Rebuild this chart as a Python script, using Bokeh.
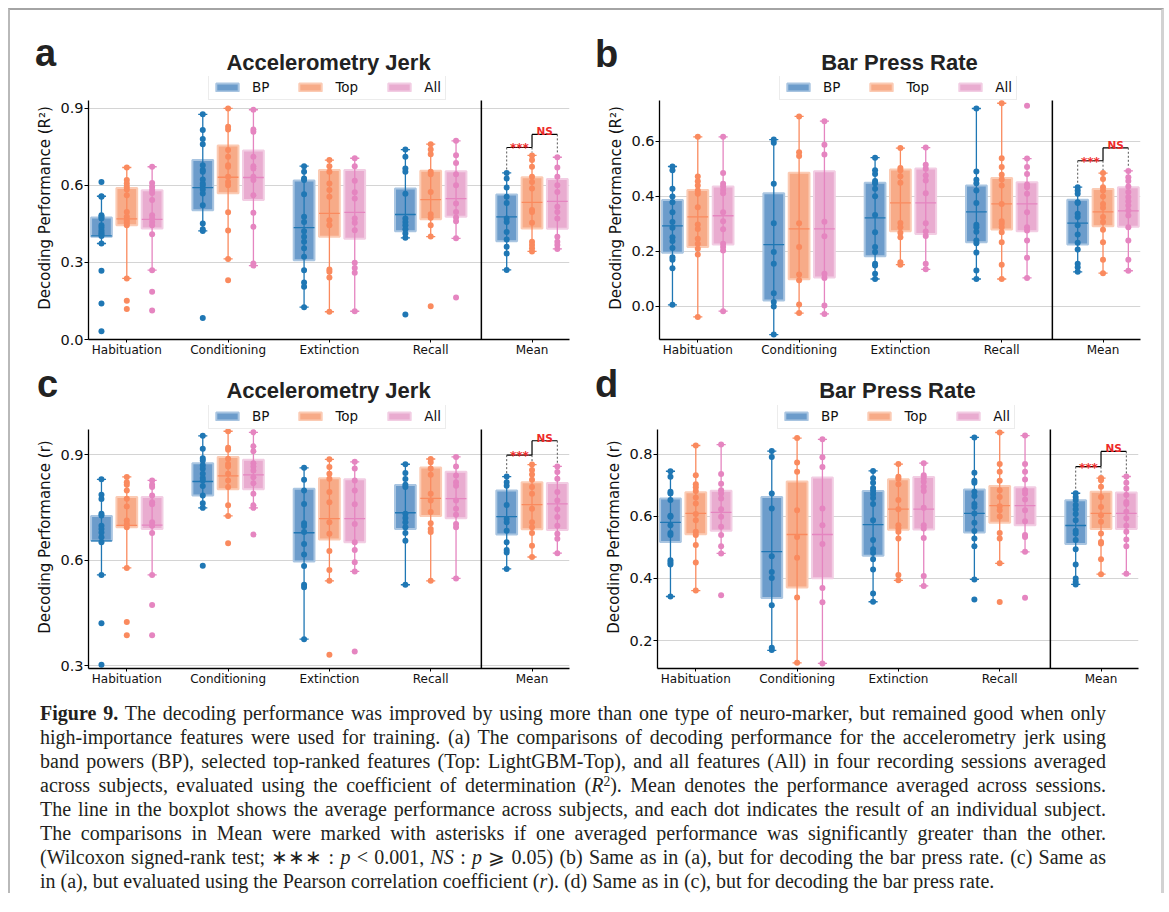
import numpy as np
from bokeh.plotting import figure
from bokeh.models import (ColumnDataSource, Legend, LegendItem, Label,
                          FixedTicker, Div, Range1d, NumeralTickFormatter)
from bokeh.layouts import column, row
from bokeh.embed import file_html
from bokeh.resources import INLINE

# ---------------------------------------------------------------- data
CATEGORIES = ["Habituation", "Conditioning", "Extinction", "Recall", "Mean"]
FEATURES = ["BP", "Top", "All"]

# box statistics per category: [lower whisker, Q1, mean, Q3, upper whisker]
A_BP_BOX = [[0.374, 0.400, 0.404, 0.475, 0.558], [0.423, 0.503, 0.592, 0.699, 0.877],
            [0.126, 0.309, 0.436, 0.619, 0.675], [0.396, 0.422, 0.487, 0.588, 0.740],
            [0.271, 0.383, 0.478, 0.565, 0.649]]
A_TOP_BOX = [[0.238, 0.445, 0.470, 0.590, 0.670], [0.314, 0.570, 0.632, 0.756, 0.900],
             [0.108, 0.400, 0.491, 0.660, 0.699], [0.401, 0.468, 0.545, 0.657, 0.761],
             [0.343, 0.432, 0.534, 0.632, 0.717]]
A_ALL_BOX = [[0.270, 0.432, 0.468, 0.581, 0.673], [0.288, 0.543, 0.631, 0.736, 0.895],
             [0.110, 0.392, 0.495, 0.660, 0.706], [0.394, 0.478, 0.549, 0.655, 0.774],
             [0.353, 0.431, 0.538, 0.625, 0.710]]

B_BP_BOX = [[0.006, 0.195, 0.293, 0.387, 0.509], [-0.102, 0.022, 0.225, 0.412, 0.607],
            [0.100, 0.183, 0.322, 0.450, 0.541], [0.100, 0.234, 0.344, 0.440, 0.720],
            [0.126, 0.225, 0.303, 0.388, 0.434]]
B_TOP_BOX = [[-0.038, 0.216, 0.326, 0.424, 0.617], [-0.024, 0.099, 0.282, 0.486, 0.691],
             [0.152, 0.274, 0.377, 0.498, 0.576], [0.100, 0.280, 0.373, 0.467, 0.739],
             [0.121, 0.292, 0.344, 0.427, 0.485]]
B_ALL_BOX = [[-0.017, 0.225, 0.330, 0.436, 0.617], [-0.027, 0.105, 0.282, 0.492, 0.674],
             [0.135, 0.264, 0.377, 0.502, 0.578], [0.104, 0.274, 0.373, 0.452, 0.538],
             [0.130, 0.290, 0.348, 0.434, 0.493]]

C_BP_BOX = [[0.558, 0.655, 0.655, 0.726, 0.830], [0.749, 0.784, 0.824, 0.876, 0.954],
            [0.375, 0.596, 0.678, 0.803, 0.863], [0.530, 0.689, 0.735, 0.814, 0.873],
            [0.575, 0.673, 0.724, 0.798, 0.838]]
C_TOP_BOX = [[0.578, 0.694, 0.699, 0.780, 0.837], [0.726, 0.802, 0.840, 0.894, 0.967],
             [0.541, 0.659, 0.718, 0.833, 0.887], [0.541, 0.726, 0.776, 0.864, 0.888],
             [0.609, 0.688, 0.758, 0.822, 0.872]]
C_ALL_BOX = [[0.558, 0.689, 0.700, 0.780, 0.827], [0.749, 0.802, 0.843, 0.886, 0.964],
             [0.568, 0.651, 0.718, 0.830, 0.880], [0.548, 0.719, 0.775, 0.852, 0.894],
             [0.620, 0.686, 0.760, 0.820, 0.867]]

D_BP_BOX = [[0.342, 0.518, 0.581, 0.658, 0.746], [0.168, 0.337, 0.487, 0.663, 0.811],
            [0.325, 0.473, 0.574, 0.682, 0.747], [0.397, 0.548, 0.610, 0.687, 0.855],
            [0.381, 0.511, 0.571, 0.652, 0.675]]
D_TOP_BOX = [[0.361, 0.543, 0.610, 0.678, 0.829], [0.128, 0.371, 0.542, 0.713, 0.853],
             [0.394, 0.557, 0.624, 0.720, 0.769], [0.449, 0.580, 0.635, 0.698, 0.871],
             [0.414, 0.560, 0.610, 0.680, 0.724]]
D_ALL_BOX = [[0.481, 0.554, 0.613, 0.683, 0.832], [0.126, 0.401, 0.542, 0.726, 0.849],
             [0.376, 0.558, 0.624, 0.727, 0.772], [0.486, 0.572, 0.635, 0.694, 0.861],
             [0.415, 0.560, 0.610, 0.677, 0.729]]

# individual subjects (one list per category)
A_BP_DOTS = [[0.614, 0.558, 0.556, 0.484, 0.478, 0.471, 0.445, 0.436, 0.426, 0.417, 0.410, 0.403, 0.374, 0.268, 0.140, 0.032],
             [0.877, 0.816, 0.781, 0.761, 0.679, 0.660, 0.653, 0.623, 0.608, 0.600, 0.584, 0.569, 0.523, 0.452, 0.429, 0.423, 0.084],
             [0.675, 0.653, 0.627, 0.621, 0.566, 0.478, 0.458, 0.422, 0.400, 0.381, 0.355, 0.322, 0.270, 0.222, 0.205, 0.126],
             [0.740, 0.712, 0.666, 0.653, 0.568, 0.471, 0.458, 0.445, 0.429, 0.413, 0.396, 0.097],
             [0.649, 0.627, 0.592, 0.556, 0.532, 0.471, 0.458, 0.419, 0.390, 0.361, 0.335, 0.271]]
A_TOP_DOTS = [[0.670, 0.621, 0.608, 0.595, 0.584, 0.562, 0.497, 0.478, 0.465, 0.455, 0.445, 0.238, 0.151, 0.119],
              [0.900, 0.829, 0.818, 0.738, 0.712, 0.679, 0.673, 0.634, 0.614, 0.601, 0.496, 0.425, 0.314, 0.231],
              [0.699, 0.675, 0.653, 0.608, 0.582, 0.556, 0.465, 0.445, 0.273, 0.264, 0.242, 0.108],
              [0.761, 0.740, 0.722, 0.653, 0.644, 0.575, 0.488, 0.474, 0.445, 0.401, 0.130],
              [0.717, 0.699, 0.673, 0.634, 0.614, 0.588, 0.504, 0.497, 0.455, 0.381, 0.368, 0.355, 0.343]]
A_ALL_DOTS = [[0.673, 0.610, 0.595, 0.582, 0.571, 0.543, 0.484, 0.471, 0.458, 0.445, 0.410, 0.270, 0.186, 0.113],
              [0.895, 0.818, 0.809, 0.712, 0.675, 0.666, 0.634, 0.621, 0.562, 0.494, 0.439, 0.296, 0.288],
              [0.706, 0.675, 0.618, 0.574, 0.549, 0.471, 0.455, 0.426, 0.299, 0.279, 0.260, 0.110],
              [0.774, 0.718, 0.688, 0.644, 0.601, 0.530, 0.497, 0.475, 0.461, 0.394, 0.164],
              [0.710, 0.670, 0.634, 0.601, 0.575, 0.517, 0.497, 0.471, 0.400, 0.381, 0.368, 0.353]]

B_BP_DOTS = [[0.509, 0.495, 0.428, 0.400, 0.379, 0.343, 0.307, 0.286, 0.252, 0.238, 0.213, 0.179, 0.170, 0.139, 0.006],
             [0.607, 0.595, 0.446, 0.303, 0.198, 0.155, 0.048, 0.016, 0.000, -0.102],
             [0.541, 0.495, 0.482, 0.456, 0.448, 0.428, 0.401, 0.333, 0.270, 0.216, 0.198, 0.155, 0.149, 0.119, 0.100],
             [0.720, 0.491, 0.461, 0.448, 0.422, 0.376, 0.297, 0.288, 0.272, 0.240, 0.230, 0.196, 0.131, 0.100],
             [0.434, 0.422, 0.410, 0.379, 0.376, 0.337, 0.325, 0.295, 0.262, 0.232, 0.207, 0.155, 0.143, 0.126]]
B_TOP_DOTS = [[0.617, 0.473, 0.455, 0.440, 0.422, 0.410, 0.361, 0.298, 0.282, 0.246, 0.228, 0.210, 0.189, -0.038],
              [0.691, 0.561, 0.547, 0.303, 0.216, 0.116, 0.095, 0.007, -0.024],
              [0.576, 0.504, 0.495, 0.474, 0.450, 0.304, 0.288, 0.268, 0.252, 0.161, 0.152],
              [0.739, 0.539, 0.507, 0.479, 0.462, 0.440, 0.373, 0.310, 0.301, 0.288, 0.270, 0.234, 0.152, 0.100],
              [0.485, 0.464, 0.434, 0.422, 0.400, 0.373, 0.359, 0.325, 0.307, 0.279, 0.234, 0.170, 0.121]]
B_ALL_DOTS = [[0.617, 0.485, 0.446, 0.436, 0.424, 0.412, 0.343, 0.310, 0.281, 0.228, 0.216, 0.204, -0.017],
              [0.674, 0.588, 0.553, 0.308, 0.255, 0.119, 0.104, 0.004, -0.027],
              [0.578, 0.515, 0.501, 0.476, 0.458, 0.412, 0.303, 0.273, 0.256, 0.155, 0.135],
              [0.730, 0.538, 0.507, 0.482, 0.444, 0.434, 0.410, 0.343, 0.288, 0.276, 0.240, 0.177, 0.104],
              [0.493, 0.470, 0.456, 0.436, 0.416, 0.398, 0.383, 0.367, 0.349, 0.331, 0.288, 0.240, 0.170, 0.130]]

C_BP_DOTS = [[0.830, 0.786, 0.774, 0.732, 0.727, 0.698, 0.689, 0.679, 0.665, 0.651, 0.558, 0.420, 0.302],
             [0.954, 0.917, 0.890, 0.884, 0.870, 0.860, 0.846, 0.834, 0.827, 0.811, 0.784, 0.762, 0.749, 0.584],
             [0.863, 0.829, 0.798, 0.760, 0.705, 0.697, 0.680, 0.646, 0.616, 0.583, 0.530, 0.523, 0.375],
             [0.873, 0.848, 0.831, 0.815, 0.808, 0.732, 0.720, 0.708, 0.694, 0.677, 0.655, 0.530],
             [0.838, 0.822, 0.812, 0.757, 0.717, 0.708, 0.684, 0.651, 0.629, 0.622, 0.575]]
C_TOP_DOTS = [[0.837, 0.822, 0.815, 0.798, 0.775, 0.753, 0.713, 0.703, 0.694, 0.578, 0.424, 0.386],
              [0.967, 0.920, 0.914, 0.889, 0.874, 0.867, 0.846, 0.827, 0.808, 0.756, 0.726, 0.648],
              [0.887, 0.865, 0.846, 0.832, 0.794, 0.765, 0.708, 0.675, 0.626, 0.572, 0.541, 0.331],
              [0.888, 0.879, 0.861, 0.843, 0.789, 0.770, 0.737, 0.705, 0.689, 0.680, 0.541],
              [0.872, 0.857, 0.844, 0.829, 0.808, 0.789, 0.746, 0.708, 0.694, 0.677, 0.641, 0.609]]
C_ALL_DOTS = [[0.827, 0.815, 0.808, 0.784, 0.765, 0.759, 0.708, 0.698, 0.677, 0.558, 0.472, 0.386],
              [0.964, 0.924, 0.910, 0.876, 0.867, 0.855, 0.836, 0.819, 0.789, 0.756, 0.749, 0.673],
              [0.880, 0.861, 0.827, 0.798, 0.759, 0.703, 0.651, 0.629, 0.594, 0.568, 0.340],
              [0.894, 0.867, 0.841, 0.822, 0.812, 0.770, 0.746, 0.729, 0.703, 0.694, 0.548],
              [0.867, 0.851, 0.832, 0.794, 0.770, 0.745, 0.723, 0.698, 0.675, 0.661, 0.620]]

D_BP_DOTS = [[0.746, 0.728, 0.680, 0.674, 0.653, 0.602, 0.599, 0.572, 0.547, 0.540, 0.459, 0.452, 0.445, 0.342],
             [0.811, 0.792, 0.674, 0.626, 0.472, 0.421, 0.402, 0.314, 0.177, 0.169],
             [0.747, 0.723, 0.709, 0.692, 0.683, 0.672, 0.660, 0.640, 0.588, 0.524, 0.494, 0.483, 0.462, 0.429, 0.352, 0.325],
             [0.855, 0.741, 0.715, 0.709, 0.680, 0.666, 0.640, 0.631, 0.610, 0.580, 0.553, 0.529, 0.504, 0.397, 0.332],
             [0.675, 0.663, 0.653, 0.637, 0.623, 0.608, 0.588, 0.554, 0.545, 0.524, 0.494, 0.445, 0.400, 0.389, 0.381]]
D_TOP_DOTS = [[0.829, 0.733, 0.704, 0.694, 0.682, 0.661, 0.642, 0.608, 0.588, 0.551, 0.540, 0.508, 0.452, 0.361],
              [0.853, 0.774, 0.744, 0.620, 0.534, 0.467, 0.339, 0.128],
              [0.769, 0.728, 0.722, 0.704, 0.653, 0.623, 0.572, 0.561, 0.551, 0.529, 0.411, 0.394],
              [0.871, 0.769, 0.744, 0.715, 0.685, 0.663, 0.633, 0.620, 0.600, 0.547, 0.529, 0.449, 0.324],
              [0.724, 0.717, 0.696, 0.663, 0.631, 0.604, 0.583, 0.545, 0.518, 0.513, 0.462, 0.414]]
D_ALL_DOTS = [[0.832, 0.737, 0.706, 0.685, 0.674, 0.658, 0.623, 0.599, 0.567, 0.540, 0.504, 0.481, 0.346],
              [0.849, 0.791, 0.760, 0.626, 0.572, 0.511, 0.369, 0.323, 0.126],
              [0.772, 0.733, 0.725, 0.712, 0.696, 0.682, 0.628, 0.572, 0.561, 0.531, 0.408, 0.376],
              [0.861, 0.769, 0.744, 0.719, 0.685, 0.674, 0.655, 0.620, 0.585, 0.540, 0.534, 0.486, 0.338],
              [0.729, 0.709, 0.690, 0.669, 0.647, 0.640, 0.615, 0.594, 0.570, 0.551, 0.526, 0.504, 0.415]]

# significance bracket heights (BP-Top, Top-All) and labels
A_SIG = [0.748, 0.799]
B_SIG = [0.530, 0.577]
C_SIG = [0.899, 0.940]
D_SIG = [0.761, 0.810]
SIG_LABELS = ["***", "NS"]

A_YTICKS = [0.0, 0.3, 0.6, 0.9]
B_YTICKS = [0.0, 0.2, 0.4, 0.6]
C_YTICKS = [0.3, 0.6, 0.9]
D_YTICKS = [0.2, 0.4, 0.6, 0.8]

TITLES = ["Accelerometry Jerk", "Bar Press Rate", "Accelerometry Jerk", "Bar Press Rate"]
LETTERS = ["a", "b", "c", "d"]
YLABEL_R2 = "Decoding Performance (R²)"
YLABEL_R = "Decoding Performance (r)"

CAPTION_LINES = [
    "<b>Figure 9.</b> The decoding performance was improved by using more than one type of neuro-marker, but remained good when only",
    "high-importance features were used for training. (a) The comparisons of decoding performance for the accelerometry jerk using",
    "band powers (BP), selected top-ranked features (Top: LightGBM-Top), and all features (All) in four recording sessions averaged",
    "across subjects, evaluated using the coefficient of determination (<i>R</i><sup>2</sup>). Mean denotes the performance averaged across sessions.",
    "The line in the boxplot shows the average performance across subjects, and each dot indicates the result of an individual subject.",
    "The comparisons in Mean were marked with asterisks if one averaged performance was significantly greater than the other.",
    "(Wilcoxon signed-rank test; \u2217\u2217\u2217 : <i>p</i> &lt; 0.001, <i>NS</i> : <i>p</i> \u2A7E 0.05) (b) Same as in (a), but for decoding the bar press rate. (c) Same as",
    "in (a), but evaluated using the Pearson correlation coefficient (<i>r</i>). (d) Same as in (c), but for decoding the bar press rate.",
]

# ---------------------------------------------------------------- style / geometry
X0, X1 = -0.378, 4.37
FRAME_W, DATA_H = 481, 239          # frame width, height of the data area
LEG_H = 24                          # strip of frame above data holding the legend
HUE_OFFSETS = [-0.25, 0.0, 0.25]
BOX_W = 0.205
CAP_W = 0.09
DOT_COLORS = ["#1f77b4", "#fa8a5e", "#e585c0"]
BOX_FILL = ["#6c9ccb", "#f7ab88", "#e9acd0"]
BOX_EDGE = ["#a9c5e1", "#fbcbb4", "#f2cde3"]
SANS = "DejaVu Sans"
HEAD = "Liberation Sans"
LEGEND_X = 120
ORIGIN = (10, 10)                   # page position of the layout's content box


def make_panel(ylabel, boxes, dots, yr, yticks, sig, bl, br, bb):
    y0, y1 = yr
    upp = (y1 - y0) / DATA_H                     # data units per pixel
    p = figure(frame_width=FRAME_W, frame_height=DATA_H + LEG_H,
               x_range=Range1d(X0, X1), y_range=Range1d(y0, y1 + LEG_H * upp),
               output_backend="svg", toolbar_location=None, title_location=None,
               min_border_left=bl, min_border_right=br, min_border_top=0, min_border_bottom=bb)
    p.outline_line_color = None
    p.background_fill_color = "white"
    p.border_fill_color = "white"

    # axes
    p.xgrid.visible = False
    p.ygrid.ticker = FixedTicker(ticks=yticks)
    p.ygrid.grid_line_color = "#d4d4d4"
    p.ygrid.grid_line_width = 1
    ya = p.yaxis[0]
    ya.bounds = (y0, y1)
    ya.ticker = FixedTicker(ticks=yticks)
    ya.formatter = NumeralTickFormatter(format="0.0")
    ya.axis_label = ylabel
    ya.axis_label_text_font = SANS
    ya.axis_label_text_font_size = "15px"
    ya.axis_label_text_font_style = "normal"
    ya.axis_label_text_color = "#111111"
    ya.axis_label_standoff = 3
    ya.major_label_text_font = SANS
    ya.major_label_text_font_size = "14.5px"
    ya.major_label_text_color = "#111111"
    ya.major_label_standoff = 1
    ya.major_tick_in = 0
    ya.major_tick_out = 4
    ya.minor_tick_line_color = None
    xa = p.xaxis[0]
    xa.ticker = FixedTicker(ticks=list(range(len(CATEGORIES))))
    xa.major_label_overrides = {i: c for i, c in enumerate(CATEGORIES)}
    xa.major_label_text_font = SANS
    xa.major_label_text_font_size = "12px"
    xa.major_label_text_color = "#111111"
    xa.major_label_standoff = 0
    xa.major_tick_in = 0
    xa.major_tick_out = 3
    xa.minor_tick_line_color = None
    for ax in (xa, ya):
        ax.axis_line_color = "black"
        ax.axis_line_width = 1.3
        ax.major_tick_line_color = "black"

    cats = np.arange(len(CATEGORIES))
    box_renderers = []
    for h in range(3):
        st = np.array(boxes[h], dtype=float)
        xs = cats + HUE_OFFSETS[h]
        src = ColumnDataSource(dict(x=xs, lo=st[:, 0], q1=st[:, 1], mean=st[:, 2], q3=st[:, 3],
                                    hi=st[:, 4], xl=xs - BOX_W / 2, xr=xs + BOX_W / 2,
                                    cl=xs - CAP_W / 2, cr=xs + CAP_W / 2))
        r = p.vbar(x="x", width=BOX_W, bottom="q1", top="q3", source=src,
                   fill_color=BOX_FILL[h], line_color=BOX_EDGE[h], line_width=2)
        box_renderers.append(r)
        p.segment(x0="x", y0="lo", x1="x", y1="hi", source=src, line_color=DOT_COLORS[h], line_width=1.3)
        p.segment(x0="cl", y0="hi", x1="cr", y1="hi", source=src, line_color=DOT_COLORS[h], line_width=1.3)
        p.segment(x0="cl", y0="lo", x1="cr", y1="lo", source=src, line_color=DOT_COLORS[h], line_width=1.3)
        p.segment(x0="xl", y0="mean", x1="xr", y1="mean", source=src, line_color=DOT_COLORS[h], line_width=1.3)
        dx = np.concatenate([np.full(len(d), c + HUE_OFFSETS[h]) for c, d in zip(cats, dots[h])])
        dy = np.concatenate([np.asarray(d, dtype=float) for d in dots[h]])
        p.scatter(x=dx, y=dy, size=6, marker="circle", fill_color=DOT_COLORS[h], line_color=None)

    # separator between the sessions and Mean (data area only)
    sep = len(CATEGORIES) - 1.5
    p.segment(x0=[sep], y0=[y0], x1=[sep], y1=[y1], line_color="black", line_width=1.5)

    # significance brackets on the Mean group
    mi = len(CATEGORIES) - 1
    xb, xt, xl_ = mi + HUE_OFFSETS[0], mi + HUE_OFFSETS[1], mi + HUE_OFFSETS[2]
    tops = [max(max(dots[h][mi]), boxes[h][mi][4]) + 3 * upp for h in range(3)]
    s1, s2 = sig
    p.segment(x0=[xb, xt, xt], y0=[s1, s2, s1], x1=[xt, xl_, xt], y1=[s1, s2, s2],
              line_color="black", line_width=1.2)
    p.segment(x0=[xb, xt, xl_], y0=[s1, s1, s2], x1=[xb, xt, xl_], y1=tops,
              line_color="#555555", line_width=1, line_dash="2 2")
    p.add_layout(Label(x=(xb + xt) / 2, y=s1, text=SIG_LABELS[0], text_align="center",
                       text_baseline="alphabetic", y_offset=-1, text_color="#ee2a2a",
                       text_font=SANS, text_font_style="bold", text_font_size="12px"))
    p.add_layout(Label(x=(xt + xl_) / 2, y=s2, text=SIG_LABELS[1], text_align="center",
                       text_baseline="alphabetic", y_offset=3, text_color="#ee2a2a",
                       text_font=SANS, text_font_style="bold", text_font_size="10.5px"))

    # legend sitting on top of the data area
    legend = Legend(items=[LegendItem(label=f, renderers=[r]) for f, r in zip(FEATURES, box_renderers)],
                    orientation="horizontal", location=(LEGEND_X, DATA_H),
                    glyph_width=28, glyph_height=10, label_standoff=11, spacing=27,
                    padding=4, margin=0, label_height=14, label_width=10,
                    label_text_font=SANS, label_text_font_size="13.5px", label_text_color="#111111",
                    border_line_color="#d9d9d9", border_line_width=1,
                    background_fill_color="white", background_fill_alpha=1.0)
    p.add_layout(legend)
    return p


BL_A, BR_A, BL_B, BR_B, BL_D, BR_D = 78, 19, 71, 21, 69, 23
BB_1, BB_2 = 22, 29
W_L = BL_A + FRAME_W + BR_A
W_TOTAL = W_L + BL_B + FRAME_W + BR_B

# page y of the top of each row's data area; headers end where the legend strip starts
DATA_TOP_1, DATA_TOP_2 = 100, 429
HEAD_1 = DATA_TOP_1 - LEG_H - ORIGIN[1]
ROW1_H = LEG_H + DATA_H + BB_1
HEAD_2_TOP = ORIGIN[1] + HEAD_1 + ROW1_H
HEAD_2 = DATA_TOP_2 - LEG_H - HEAD_2_TOP

pa = make_panel(YLABEL_R2, [A_BP_BOX, A_TOP_BOX, A_ALL_BOX], [A_BP_DOTS, A_TOP_DOTS, A_ALL_DOTS],
                (0.0, 0.931), A_YTICKS, A_SIG, BL_A, BR_A, BB_1)
pb = make_panel(YLABEL_R2, [B_BP_BOX, B_TOP_BOX, B_ALL_BOX], [B_BP_DOTS, B_TOP_DOTS, B_ALL_DOTS],
                (-0.12, 0.749), B_YTICKS, B_SIG, BL_B, BR_B, BB_1)
pc = make_panel(YLABEL_R, [C_BP_BOX, C_TOP_BOX, C_ALL_BOX], [C_BP_DOTS, C_TOP_DOTS, C_ALL_DOTS],
                (0.2915, 0.972), C_YTICKS, C_SIG, BL_A, BR_A, BB_2)
pd = make_panel(YLABEL_R, [D_BP_BOX, D_TOP_BOX, D_ALL_BOX], [D_BP_DOTS, D_TOP_DOTS, D_ALL_DOTS],
                (0.1097, 0.8806), D_YTICKS, D_SIG, BL_D, BR_D, BB_2)


def header(items, top_page, height):
    """items: (text, font_px, x_page, baseline_page, anchor) -> absolutely placed bold sans text."""
    parts = []
    for text, fs, x, base, anchor in items:
        top = base - top_page - 0.8465 * fs          # baseline offset for line-height = 1
        left = x - ORIGIN[0]
        if anchor == "center":
            pos = f"left:{left - 250:.1f}px;width:500px;text-align:center;"
        else:
            pos = f"left:{left:.1f}px;"
        parts.append(
            f'<div style="position:absolute;top:{top:.1f}px;{pos}font-family:\'{HEAD}\',sans-serif;'
            f'font-weight:bold;font-size:{fs}px;line-height:{fs}px;color:#222222;'
            f'white-space:nowrap;">{text}</div>')
    html = (f'<div style="position:relative;width:{W_TOTAL}px;height:{height}px;">'
            + "".join(parts) + '</div>')
    return Div(text=html, width=W_TOTAL, height=height, margin=(0, 0, 0, 0))


CX_L = ORIGIN[0] + BL_A + FRAME_W / 2
CX_R = ORIGIN[0] + W_L + BL_B + FRAME_W / 2
CX_R2 = ORIGIN[0] + W_L + BL_D + FRAME_W / 2
head1 = header([(LETTERS[0], 38, 35, 66, "left"), (TITLES[0], 22, CX_L, 70.5, "center"),
                (LETTERS[1], 38, 595, 67, "left"), (TITLES[1], 22, CX_R, 70.5, "center")],
               ORIGIN[1], HEAD_1)
head2 = header([(LETTERS[2], 38, 37, 397, "left"), (TITLES[2], 22, CX_L, 398.5, "center"),
                (LETTERS[3], 38, 595, 397, "left"), (TITLES[3], 22, CX_R2, 398.5, "center")],
               HEAD_2_TOP, HEAD_2)

line_divs = []
for i, ln in enumerate(CAPTION_LINES):
    last = i == len(CAPTION_LINES) - 1
    align = "left" if last else "justify"
    line_divs.append(
        f'<div style="white-space:nowrap;text-align:{align};text-align-last:{align};">{ln}</div>')
caption_html = (
    '<div style="font-family:\'Liberation Serif\',serif;font-size:20px;line-height:24px;'
    'color:#231f20;padding:4px 0 0 30px;width:1096px;">'
    '<style>sup{font-size:0.68em;line-height:0;vertical-align:0.45em;}</style>'
    + "".join(line_divs) + '</div>')
caption = Div(text=caption_html, width=W_TOTAL, height=196, margin=(0, 0, 0, 0))

layout = column(head1, row(pa, pb), head2, row(pc, pd), caption, margin=(8, 0, 0, 8),
                styles={"border-left": "2px solid #b9b9b9", "border-right": "3px solid #d2d2d2",
                        "border-top": "2px solid #a4a4a4", "background": "white"})

open("out.html", "w").write(file_html(layout, INLINE, title="Figure 9"))
